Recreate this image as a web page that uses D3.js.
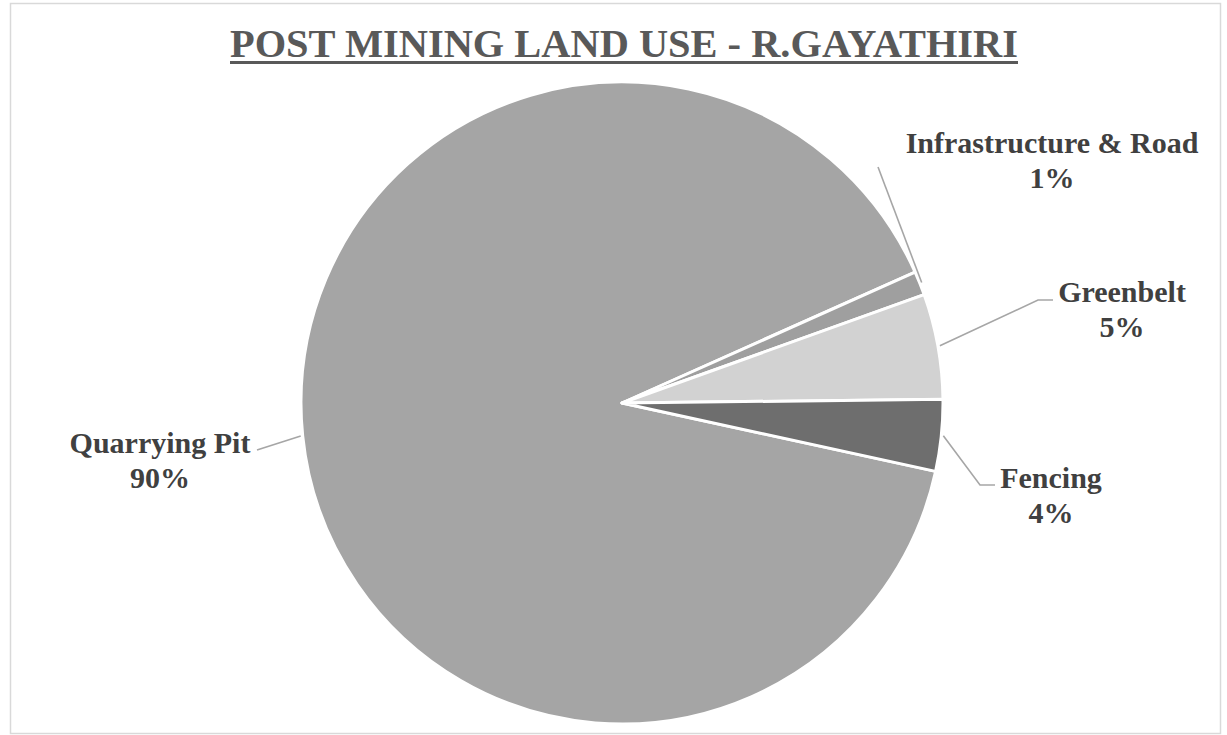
<!DOCTYPE html>
<html>
<head>
<meta charset="utf-8">
<script src="https://cdn.jsdelivr.net/npm/d3@7"></script>
<style>
  html, body { margin: 0; padding: 0; background: #fff; }
  svg { display: block; }
</style>
</head>
<body>
<script>
// Data
const categories = ["Quarrying Pit", "Infrastructure & Road", "Greenbelt", "Fencing"];
const values = [89.9, 1.2, 5.3, 3.6];
const sliceColors = ["#a5a5a5", "#9f9f9f", "#d2d2d2", "#6e6e6e"];
const titleText = "POST MINING LAND USE - R.GAYATHIRI";

const W = 1227, H = 735;
const cx = 622, cy = 403, R = 321;

const svg = d3.select("body").append("svg").attr("width", W).attr("height", H);

// chart border
svg.append("rect").attr("x", 10.5).attr("y", 3.5).attr("width", 1210).attr("height", 730)
  .attr("fill", "#fff").attr("stroke", "#d9d9d9").attr("stroke-width", 1.5);

// title
svg.append("text").attr("x", 624).attr("y", 57).attr("text-anchor", "middle")
  .attr("font-family", "'Liberation Serif', 'Times New Roman', serif")
  .attr("font-size", 41).attr("font-weight", "bold").attr("fill", "#595959")
  .attr("textLength", 788).attr("lengthAdjust", "spacingAndGlyphs")
  .text(titleText);
svg.append("line").attr("x1", 230).attr("x2", 1018).attr("y1", 62.5).attr("y2", 62.5)
  .attr("stroke", "#595959").attr("stroke-width", 3);

const data = categories.map((c, i) => ({ name: c, value: values[i], color: sliceColors[i] }));
const deg = Math.PI / 180;
const start = 102.3 * deg;
const pie = d3.pie().sort(null).value(d => d.value).startAngle(start).endAngle(start + 2 * Math.PI);
const arcs = pie(data);
const arc = d3.arc().innerRadius(0).outerRadius(R);

const g = svg.append("g").attr("transform", `translate(${cx},${cy})`);
g.selectAll("path").data(arcs).enter().append("path")
  .attr("d", arc).attr("fill", d => d.data.color)
  .attr("stroke", "#fff").attr("stroke-width", 3).attr("stroke-linejoin", "round");

// label layout (positions only)
const labelLayout = {
  "Quarrying Pit": { x: 160, y: 453, path: [[257, 450]] },
  "Infrastructure & Road": { x: 1052, y: 153, path: [[878, 167]] },
  "Greenbelt": { x: 1122, y: 302, path: [[1038, 300], [1053, 300]] },
  "Fencing": { x: 1051, y: 488, path: [[980, 485], [995, 485]] }
};

const total = d3.sum(values);
arcs.forEach(a => {
  const L = labelLayout[a.data.name];
  const mid = (a.startAngle + a.endAngle) / 2;
  const rr = R + 2;
  const p0 = [cx + rr * Math.sin(mid), cy - rr * Math.cos(mid)];
  const pts = [p0].concat(L.path);
  svg.append("path").attr("d", d3.line()(pts)).attr("fill", "none")
    .attr("stroke", "#a6a6a6").attr("stroke-width", 1.6);
  const t = svg.append("text").attr("text-anchor", "middle")
    .attr("font-family", "'Liberation Serif', 'Times New Roman', serif")
    .attr("font-weight", "bold").attr("font-size", 30).attr("fill", "#404040");
  t.append("tspan").attr("x", L.x).attr("y", L.y).text(a.data.name);
  t.append("tspan").attr("x", L.x).attr("y", L.y + 35)
    .text(Math.round(a.data.value / total * 100) + "%");
});
</script>
</body>
</html>
